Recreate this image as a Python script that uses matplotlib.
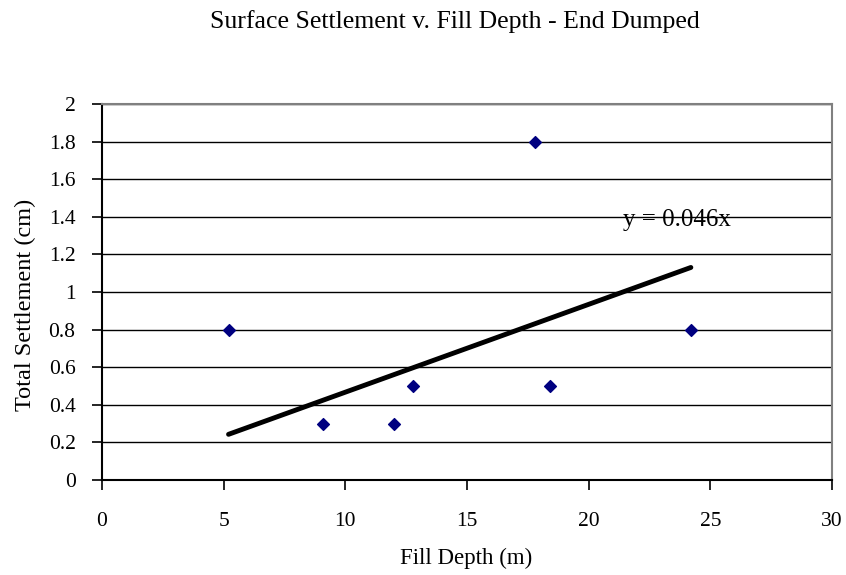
import numpy as np
import matplotlib.pyplot as plt

plt.rcParams['font.family'] = ['Liberation Serif', 'DejaVu Serif']

# data
fill_depth = [5.2, 9.1, 12.0, 12.8, 17.8, 18.4, 24.2]
settlement = [0.8, 0.3, 0.3, 0.5, 1.8, 0.5, 0.8]
x_ticks = [0, 5, 10, 15, 20, 25, 30]
y_ticks = [0, 0.2, 0.4, 0.6, 0.8, 1, 1.2, 1.4, 1.6, 1.8, 2]

x = np.array(fill_depth)
y = np.array(settlement)
# linear trend through origin
slope = np.sum(x * y) / np.sum(x * x)
xs = np.array([x.min(), x.max()])

fig = plt.figure(figsize=(8.46, 5.75), dpi=100)
ax = fig.add_axes([102 / 846, 1 - 480 / 575, 730 / 846, 376 / 575])

for t in y_ticks[1:]:
    ax.axhline(t, color='black', lw=1, zorder=1)

ax.plot(xs, slope * xs, color='black', lw=3.5, solid_capstyle='round', zorder=2)
ax.scatter(x, y, marker='D', s=36, color='#000080', zorder=3)
ax.text(21.4, 1.385, 'y = 0.046x', fontsize=18, va='center')

ax.set_xlim(0, 30)
ax.set_ylim(0, 2)
ax.set_xticks(x_ticks)
ax.set_yticks(y_ticks)
ax.set_yticklabels([f'{v:g}' for v in y_ticks])
ax.tick_params(labelsize=15.5, direction='out', length=7, width=1.2)
ax.tick_params(axis='y', pad=12)
ax.tick_params(axis='x', pad=16)

ax.spines['left'].set_linewidth(1.5)
ax.spines['bottom'].set_linewidth(1.5)
ax.spines['top'].set_color('#808080')
ax.spines['right'].set_color('#808080')
ax.spines['top'].set_linewidth(1.5)
ax.spines['right'].set_linewidth(1.5)

ax.set_xlabel('Fill Depth (m)', fontsize=16.5)
ax.set_ylabel('Total Settlement (cm)', fontsize=17.5)
ax.xaxis.set_label_coords(0.499, -0.181)
ax.yaxis.set_label_coords(-0.09, 0.465)
fig.text(0.538, 0.962, 'Surface Settlement v. Fill Depth - End Dumped',
         fontsize=18.5, ha='center', va='center')

fig.savefig('out.png', dpi=100)
